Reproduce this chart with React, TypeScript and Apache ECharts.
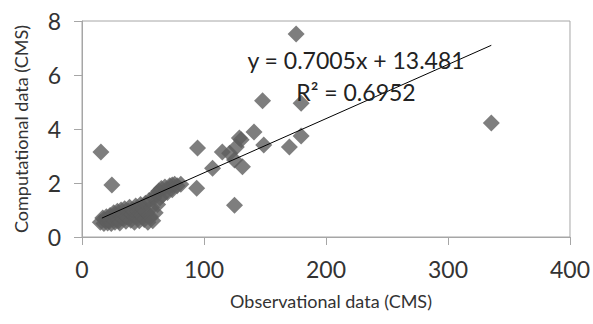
import React, { useEffect, useRef } from "react";
import * as echarts from "echarts";

const xTicks = [0, 100, 200, 300, 400];
const yTicks = [0, 2, 4, 6, 8];

// observational (x) values
const obsX = [
  175.5, 148, 179.6, 141, 129, 149, 179.6, 170, 94.7, 115, 126.5, 131.5, 107, 125, 94, 125, 74,
  121, 130.5, 335.5, 15.5, 24.5,
  15, 17, 18, 19, 20, 21, 22, 23, 24, 25,
  26, 27, 28, 29, 30, 31, 32, 33, 34, 35, 36, 37, 38, 39, 40, 41, 42, 43, 44, 45,
  46, 47, 48, 49, 50, 51, 52, 53, 54, 55, 56, 57, 58, 59, 60,
  61, 62, 63, 64, 65, 66, 68, 70, 72, 74, 76, 78, 81,
];
// computational (y) values
const compY = [
  7.52, 5.05, 4.95, 3.89, 3.67, 3.41, 3.74, 3.33, 3.3, 3.15, 3.33, 2.6, 2.55, 2.85, 1.81, 1.18, 1.93,
  3.1, 3.6, 4.22, 3.15, 1.93,
  0.55, 0.7, 0.5, 0.62, 0.75, 0.52, 0.6, 0.8, 0.5, 0.68,
  0.9, 0.55, 0.75, 0.95, 0.6, 0.52, 1.0, 0.7, 0.85, 1.05, 0.58, 0.75, 0.95, 1.1, 0.62, 0.85, 1.0, 0.55, 1.15, 0.75,
  0.95, 0.6, 1.2, 0.8, 1.05, 0.65, 1.25, 0.9, 0.55, 1.35, 0.75, 1.1, 0.6, 1.45, 0.9,
  1.6, 1.2, 1.7, 1.45, 1.8, 1.55, 1.85, 1.65, 1.9, 1.75, 1.95, 1.9, 1.95,
];

// trend line end points
const trendX = [16.3, 335.5];
const trendY = [0.7, 7.1];

const equationText = "y = 0.7005x + 13.481";
const r2Text = "R\u00B2 = 0.6952";

export default function App() {
  const ref = useRef<HTMLDivElement>(null);
  useEffect(() => {
    if (!ref.current) return;
    const chart = echarts.init(ref.current, undefined, { renderer: "svg" });
    const font = "Lato, 'Open Sans', sans-serif";
    const gray = "#a6a6a6";
    chart.setOption({
      animation: false,
      textStyle: { fontFamily: font },
      grid: {
        left: 82,
        right: 21,
        top: 21,
        bottom: 87,
        show: true,
        borderColor: gray,
        borderWidth: 1,
      },
      xAxis: {
        type: "value",
        min: xTicks[0],
        max: xTicks[xTicks.length - 1],
        interval: 100,
        name: "Observational data (CMS)",
        nameLocation: "middle",
        nameGap: 55,
        nameTextStyle: { fontSize: 18, color: "#333", fontFamily: font, padding: [0, 0, 0, 10] },
        axisLine: { show: true, lineStyle: { color: gray, width: 1 } },
        axisTick: { show: true, length: 8, lineStyle: { color: gray } },
        axisLabel: { fontSize: 23, color: "#333", margin: 20, fontFamily: font },
        splitLine: { show: false },
      },
      yAxis: {
        type: "value",
        min: yTicks[0],
        max: yTicks[yTicks.length - 1],
        interval: 2,
        name: "Computational data (CMS)",
        nameLocation: "middle",
        nameGap: 52,
        nameTextStyle: { fontSize: 18, color: "#333", fontFamily: font },
        axisLine: { show: true, lineStyle: { color: gray, width: 1 } },
        axisTick: { show: true, length: 8, lineStyle: { color: gray } },
        axisLabel: { fontSize: 23, color: "#333", margin: 21, fontFamily: font },
        splitLine: { show: false },
      },
      series: [
        {
          type: "scatter",
          data: obsX.map((x, i) => [x, compY[i]]),
          symbol: "diamond",
          symbolSize: 17,
          itemStyle: { color: "#5e5e5e" },
          z: 2,
        },
        {
          type: "line",
          data: trendX.map((x, i) => [x, trendY[i]]),
          symbol: "none",
          lineStyle: { color: "#000", width: 1 },
          z: 3,
        },
      ],
      graphic: [
        {
          type: "text",
          x: 356,
          y: 60,
          z: 10,
          style: {
            text: equationText,
            fontSize: 23,
            fontFamily: font,
            fill: "#222",
            align: "center",
            verticalAlign: "middle",
          },
        },
        {
          type: "text",
          x: 356,
          y: 92,
          z: 10,
          style: {
            text: r2Text,
            fontSize: 23,
            fontFamily: font,
            fill: "#222",
            align: "center",
            verticalAlign: "middle",
          },
        },
      ],
    });
    return () => chart.dispose();
  }, []);
  return (
    <div
      ref={ref}
      style={{ position: "absolute", left: 0, top: 0, width: 593, height: 324, background: "#fff" }}
    />
  );
}
